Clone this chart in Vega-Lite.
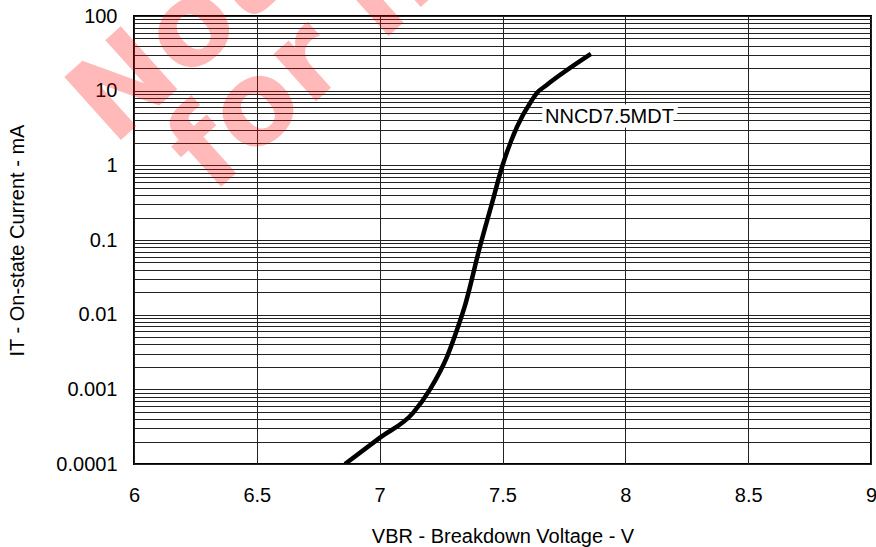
{
  "$schema": "https://vega.github.io/schema/vega-lite/v6.json",
  "width": 737,
  "height": 448,
  "autosize": {"type": "none"},
  "padding": {"left": 134, "top": 16, "right": 5, "bottom": 83},
  "background": "white",
  "config": {
    "view": {"stroke": "black", "strokeWidth": 2},
    "font": "Liberation Sans",
    "axis": {
      "labelFont": "Liberation Sans",
      "titleFont": "Liberation Sans",
      "labelFontSize": 20,
      "titleFontSize": 20,
      "titleFontWeight": "normal",
      "labelColor": "black",
      "titleColor": "black",
      "grid": true,
      "gridColor": "#222222",
      "gridWidth": 1,
      "gridOpacity": 1,
      "ticks": false,
      "tickSize": 0,
      "domain": false,
      "labelOverlap": false,
      "labelFlush": false
    }
  },
  "datasets": {
    "curve": [
      {"v": 6.859, "i": 0.0001},
      {"v": 7.0, "i": 0.000224},
      {"v": 7.136, "i": 0.000484},
      {"v": 7.205, "i": 0.001},
      {"v": 7.274, "i": 0.00272},
      {"v": 7.319, "i": 0.00687},
      {"v": 7.345, "i": 0.0125},
      {"v": 7.408, "i": 0.081},
      {"v": 7.461, "i": 0.345},
      {"v": 7.498, "i": 0.95},
      {"v": 7.559, "i": 3.27},
      {"v": 7.62, "i": 7.5},
      {"v": 7.64, "i": 9.3},
      {"v": 7.68, "i": 11.9},
      {"v": 7.86, "i": 31}
    ],
    "labels": [
      {"v": 7.673, "i": 4.45, "t": "NNCD7.5MDT"}
    ],
    "watermark": [
      {"v": 5.9145, "i": 1.762, "t": "Not recommended"},
      {"v": 6.3175, "i": 0.401, "t": "for new design"}
    ]
  },
  "layer": [
    {
      "data": {"name": "curve"},
      "mark": {"type": "line", "color": "black", "strokeWidth": 4.5, "interpolate": "monotone", "clip": true},
      "encoding": {
        "x": {
          "field": "v",
          "type": "quantitative",
          "scale": {"domain": [6, 9], "nice": false, "zero": false},
          "axis": {
            "values": [6, 6.5, 7, 7.5, 8, 8.5, 9],
            "format": "~g",
            "labelPadding": 21,
            "title": "VBR - Breakdown Voltage - V",
            "titleY": 78,
            "titleBaseline": "alphabetic"
          }
        },
        "y": {
          "field": "i",
          "type": "quantitative",
          "scale": {"type": "log", "domain": [0.0001, 100], "nice": false},
          "axis": {
            "values": [0.0001, 0.0002, 0.0003, 0.0004, 0.0005, 0.0006, 0.0007, 0.0008, 0.0009,
                       0.001, 0.002, 0.003, 0.004, 0.005, 0.006, 0.007, 0.008, 0.009,
                       0.01, 0.02, 0.03, 0.04, 0.05, 0.06, 0.07, 0.08, 0.09,
                       0.1, 0.2, 0.3, 0.4, 0.5, 0.6, 0.7, 0.8, 0.9,
                       1, 2, 3, 4, 5, 6, 7, 8, 9,
                       10, 20, 30, 40, 50, 60, 70, 80, 90, 100],
            "labelExpr": "abs(log(datum.value)/LN10 - round(log(datum.value)/LN10)) < 0.000001 ? format(datum.value, '~g') : ''",
            "labelPadding": 17,
            "title": "IT - On-state Current - mA",
            "titleX": -117,
            "titleY": 224,
            "titleBaseline": "middle"
          }
        }
      }
    },
    {
      "data": {"name": "labels"},
      "mark": {"type": "text", "align": "left", "baseline": "middle", "fontSize": 20, "font": "Liberation Sans", "fill": "white", "stroke": "white", "strokeWidth": 9, "strokeJoin": "round"},
      "encoding": {
        "x": {"field": "v", "type": "quantitative"},
        "y": {"field": "i", "type": "quantitative"},
        "text": {"field": "t"}
      }
    },
    {
      "data": {"name": "labels"},
      "mark": {"type": "text", "align": "left", "baseline": "middle", "fontSize": 20, "font": "Liberation Sans", "fill": "black"},
      "encoding": {
        "x": {"field": "v", "type": "quantitative"},
        "y": {"field": "i", "type": "quantitative"},
        "text": {"field": "t"}
      }
    },
    {
      "data": {"name": "watermark"},
      "mark": {"type": "text", "align": "left", "baseline": "alphabetic", "fontSize": 116, "fontWeight": "bold", "font": "DejaVu Sans", "angle": -42, "fill": "#ff0000", "opacity": 0.27, "clip": false},
      "encoding": {
        "x": {"field": "v", "type": "quantitative"},
        "y": {"field": "i", "type": "quantitative"},
        "text": {"field": "t"}
      }
    }
  ]
}
